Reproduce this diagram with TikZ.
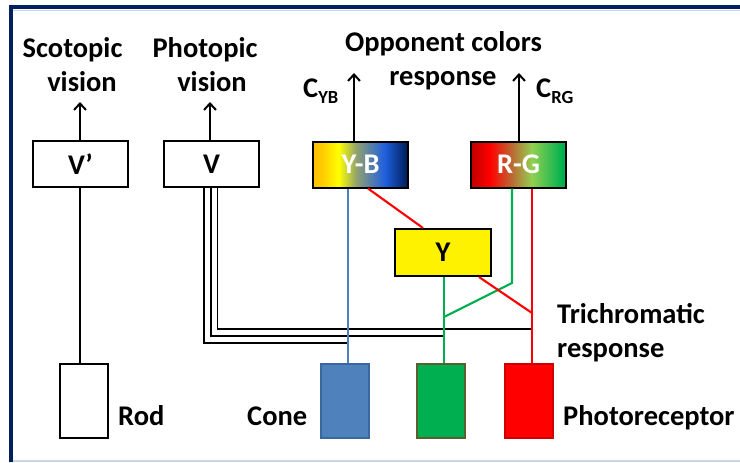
\documentclass[tikz,border=0pt]{standalone}
\usepackage{fontspec}
\setmainfont{Carlito}
\usetikzlibrary{arrows.meta,calc}
\definecolor{navy}{HTML}{002060}
\definecolor{framelight}{HTML}{C9D5EA}
\definecolor{coneblue}{HTML}{4F81BD}
\definecolor{coneedge}{HTML}{3A67A0}
\definecolor{mgreen}{HTML}{00B050}
\definecolor{greenedge}{HTML}{5A5F30}
\definecolor{mred}{HTML}{FF0000}
\definecolor{rededge}{HTML}{D00000}
\definecolor{ybA}{HTML}{FFC000}
\definecolor{ybB}{HTML}{FFFF00}
\definecolor{ybC}{HTML}{8FA070}
\definecolor{ybD}{HTML}{2060E0}
\definecolor{ybE}{HTML}{002060}
\definecolor{rgA}{HTML}{C00000}
\definecolor{rgB}{HTML}{FF0000}
\definecolor{rgC}{HTML}{C06030}
\definecolor{rgD}{HTML}{92D050}
\definecolor{rgE}{HTML}{00B050}
\pgfdeclarehorizontalshading{ybshade}{100bp}{color(0bp)=(ybA); color(25bp)=(ybA); color(30bp)=(ybA!80!ybB); color(38.5bp)=(ybB); color(48bp)=(ybC); color(62.5bp)=(ybD); color(74bp)=(ybE); color(100bp)=(ybE)}
\pgfdeclarehorizontalshading{rgshade}{100bp}{color(0bp)=(rgA); color(25bp)=(rgA); color(35bp)=(rgB); color(45.5bp)=(rgC); color(57bp)=(rgD); color(73bp)=(rgE); color(100bp)=(rgE)}
\begin{document}
\begin{tikzpicture}[x=1pt,y=-1pt,
  bigfont/.style={font=\bfseries\fontsize{28.5}{30}\selectfont},
  box/.style={draw=black, line width=2pt, minimum width=95pt, minimum height=46pt, inner sep=0pt, bigfont},
  cell/.style={line width=2pt, minimum width=48pt, minimum height=74pt, inner sep=0pt},
  lbl/.style={bigfont, inner sep=0pt, anchor=base},
  lblw/.style={bigfont, inner sep=0pt, anchor=base west},
  conn/.style={line width=1.8pt},
  cconn/.style={line width=2.1pt},
  arr/.style={line width=2pt, -{Straight Barb[length=6.5pt,width=12pt]}}]
\useasboundingbox (0,0) rectangle (740,463);
% frame
\draw[framelight, line width=1.5pt] (11,461) -- (740,461);
\draw[framelight, line width=1pt] (13,10) -- (740,10);
\draw[navy, line width=4pt] (11,5) -- (11,462);
\draw[navy, line width=4pt] (9,7) -- (740,7);

% boxes
\node[box] (Vp) at (80.5,164) {V’};
\node[box] (V) at (211.5,164) {V};
\node[box, shading=ybshade, text=white] (YB) at (360.5,164.5) {Y-B};
\node[box, shading=rgshade, text=white] (RG) at (518.5,164.5) {R-G};
\node[box, fill=yellow, minimum width=96pt, minimum height=47pt] (Y) at (443,252.5) {Y};

% photoreceptor cells
\node[cell, draw=black, fill=white] (Rod) at (84,401) {};
\node[cell, draw=coneedge, fill=coneblue] (Cone) at (344.5,401) {};
\node[cell, draw=greenedge, fill=mgreen] (Green) at (440.5,401) {};
\node[cell, draw=rededge, fill=mred] (Red) at (529,401) {};

% top labels
\node[lbl] (scot) at (72.5,57) {Scotopic};
\node[lbl] (scotv) at (82,91) {vision};
\node[lbl] (phot) at (205,57) {Photopic};
\node[lbl] (photv) at (212,91) {vision};
\node[lbl] (opp) at (443.5,52) {Opponent colors};
\node[lbl] (oppr) at (443,85) {response};
\node[lblw] (cyb) at (303,97) {C\raisebox{-6pt}{\fontsize{18.5}{19}\selectfont YB}};
\node[lblw] (crg) at (536,97) {C\raisebox{-6pt}{\fontsize{18.5}{19}\selectfont RG}};
\node[lblw] (tri) at (557,323) {Trichromatic};
\node[lblw] (trir) at (557,357) {response};
\node[lblw] (rodl) at (118,425) {Rod};
\node[lblw] (conel) at (247,425) {Cone};
\node[lblw] (photol) at (563,425) {Photoreceptor};

% output arrows
\draw[arr] ($(Vp.north)+(-0.5,0)$) coordinate (a1) -- (a1 |- 0,102) coordinate (a1e);
\draw[arr] ($(V.north)+(-1.5,0)$) coordinate (a2) -- (a2 |- 0,102) coordinate (a2e);
\draw[arr] ($(YB.north)+(-6.5,0)$) coordinate (a3) -- (a3 |- 0,73) coordinate (a3e);
\draw[arr] ($(RG.north)+(0.5,0)$) coordinate (a4) -- (a4 |- 0,73) coordinate (a4e);

% rod pathway
\draw[conn] ($(Vp.south)+(-0.5,0)$) coordinate (r1) -- (r1 |- Rod.north);

% triple photopic lines
\draw[conn] ($(V.south)+(-7.5,0)$) coordinate (t1) -- (t1 |- 0,343) -- (348,343) coordinate (t1e);
\draw[conn] ($(V.south)+(-0.5,0)$) coordinate (t2) -- (t2 |- 0,336) -- (444,336) coordinate (t2e);
\draw[conn] ($(V.south)+(6,0)$) coordinate (t3) -- (t3 |- 0,329) -- (531,329) coordinate (t3e);

% blue (cone) line
\draw[cconn, coneblue] ($(YB.south)+(-12.5,0)$) coordinate (b1) -- (b1 |- Cone.north);
% red YB -> Y
\draw[cconn, mred] ($(YB.south)+(7.5,0)$) -- ($(Y.north)+(-20,0)$);
% green Y -> green cell
\draw[cconn, mgreen] ($(Y.south)+(1,0)$) coordinate (g1) -- (g1 |- Green.north);
% green RG -> junction
\draw[cconn, mgreen] ($(RG.south)+(-6.5,0)$) coordinate (g2) -- (g2 |- 0,283) -- (g1 |- 0,317);
% red RG -> red cell
\draw[cconn, mred] ($(RG.south)+(13.5,0)$) coordinate (rr) -- (rr |- Red.north);
% red Y -> red line
\draw[cconn, mred] ($(Y.south east)+(-13,0)$) -- (rr |- 0,313);
\end{tikzpicture}
\end{document}
